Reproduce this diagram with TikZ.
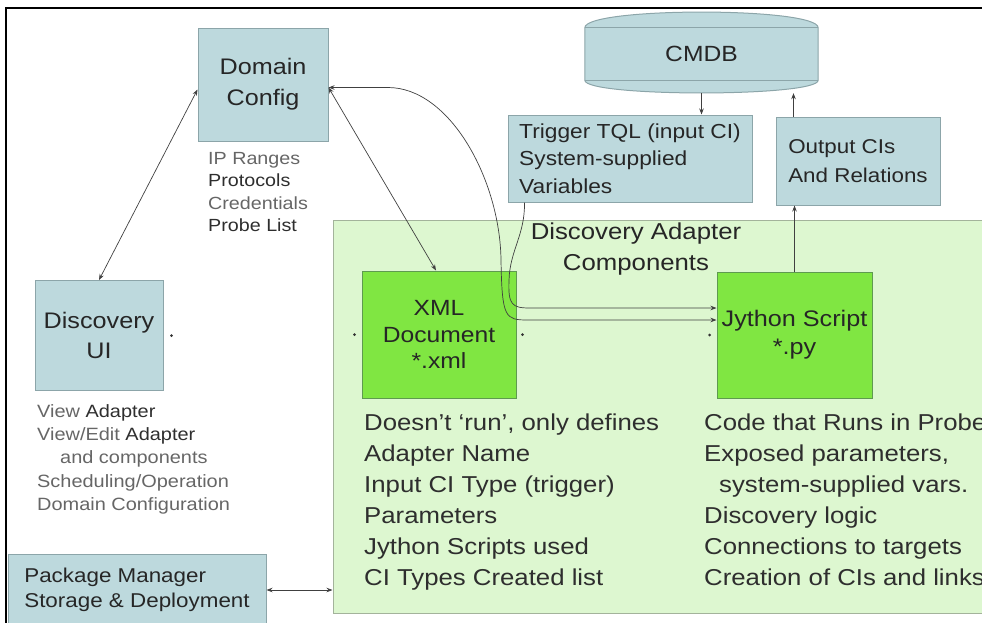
\documentclass[tikz,border=0pt]{standalone}
\usepackage{fontspec}
\setmainfont{Liberation Sans}[FakeStretch = 1.12]
\usetikzlibrary{arrows.meta}

\definecolor{cfgblue}{HTML}{BDD9DD}
\definecolor{cfgedge}{HTML}{8CA5A9}
\definecolor{adaptgreen}{HTML}{DDF7D0}
\definecolor{adaptedge}{HTML}{A3B39B}
\definecolor{filegreen}{HTML}{80E642}
\definecolor{fileedge}{HTML}{5E9A50}
\definecolor{listgray}{HTML}{2E2E2E}

\begin{document}
\begin{tikzpicture} [x = 1pt, y = -1pt, >= {Stealth[length = 6pt, width = 4.5pt]},
  bluebox/.style = {draw = cfgedge, fill = cfgblue, line width = 1pt, inner sep = 0pt, align = center, text = black!85},
  filebox/.style = {draw = fileedge, fill = filegreen, line width = 1pt, inner sep = 0pt, align = center, text = black!85},
  itemlist/.style = {anchor = north west, inner sep = 0pt, align = left, text = listgray},
  link/.style = {draw = black!75, line width = 0.7pt}]
\useasboundingbox (0.0, 0.0) rectangle (982.0, 622.0);
\clip (0.0, 0.0) rectangle (982.0, 622.0);
\draw[line width = 1.8pt] (6.0, 640.0) -- (6.0, 8.0) -- (995.0, 8.0);
\node[draw = adaptedge, fill = adaptgreen, line width = 1pt, inner sep = 0pt, minimum width = 667pt, minimum height = 393pt] (adapter) at (666.5, 416.5) {};
\node[text = black!85, align = center, font = \fontsize{23}{31}\selectfont] (adaptlabel) at (636.0, 249.5) {Discovery Adapter\\Components};
\node[bluebox, minimum width = 130pt, minimum height = 113pt, font = \fontsize{22.5}{31}\selectfont] (dom) at (263.0, 84.5) {Domain\\Config};
\node[bluebox, minimum width = 128pt, minimum height = 110pt, font = \fontsize{22.5}{30}\selectfont] (ui) at (99.0, 335.5) {Discovery\\UI};
\node[bluebox, minimum width = 258pt, minimum height = 72pt, align = left, font = \fontsize{20}{25}\selectfont] (pkg) at (137.0, 590.0) {Package Manager\\Storage \& Deployment};
\node[bluebox, minimum width = 244pt, minimum height = 87pt, align = left, font = \fontsize{20.3}{27.5}\selectfont] (trig) at (630.0, 158.5) {Trigger TQL (input CI)\\System-supplied\\Variables};
\node[bluebox, minimum width = 164pt, minimum height = 88pt, align = left, font = \fontsize{20}{29}\selectfont] (out) at (858.0, 161.0) {Output CIs\\And Relations};
\node[minimum width = 233pt, minimum height = 52pt, inner sep = 0pt] (cmdb) at (701.5, 54.0) {};
\draw[draw = cfgedge, fill = cfgblue, line width = 1pt] (cmdb.south west) -- (cmdb.north west) .. controls +(0, -21) and +(0, -21) .. (cmdb.north east) -- (cmdb.south east) .. controls +(0, 17) and +(0, 17) .. (cmdb.south west) -- cycle;
\draw[draw = cfgedge, line width = 1pt] (cmdb.north west) -- (cmdb.north east);
\draw[draw = cfgedge, line width = 1pt] (cmdb.south west) -- (cmdb.south east);
\node[text = black!85, font = \fontsize{22}{26}\selectfont] (cmdblabel) at (cmdb) {CMDB};
\node[filebox, minimum width = 154pt, minimum height = 127pt, font = \fontsize{22}{26.5}\selectfont] (xml) at (439.0, 334.5) {XML\\Document\\*.xml};
\node[filebox, minimum width = 155pt, minimum height = 126pt, font = \fontsize{22.5}{28}\selectfont] (py) at (794.5, 335.0) {Jython Script\\*.py};
\node[itemlist, font = \fontsize{17.6}{22.5}\selectfont] (domlist) at (208.0, 152.0) {\textcolor{black!60}{IP Ranges}\\Protocols\\\textcolor{black!60}{Credentials}\\Probe List};
\node[itemlist, font = \fontsize{17.8}{23.4}\selectfont] (uilist) at (37.0, 404.0) {\textcolor{black!60}{View} Adapter\\\textcolor{black!60}{View/Edit} Adapter\\\hspace*{23pt}\textcolor{black!60}{and components}\\\textcolor{black!60}{Scheduling/Operation}\\\textcolor{black!60}{Domain Configuration}};
\node[itemlist, font = \fontsize{23}{31}\selectfont] (xmllist) at (364.0, 414.0) {Doesn't `run', only defines\\Adapter Name\\Input CI Type (trigger)\\Parameters\\Jython Scripts used\\CI Types Created list};
\node[itemlist, font = \fontsize{23}{31}\selectfont] (pylist) at (704.0, 414.0) {Code that Runs in Probe\\Exposed parameters,\\\hspace*{15pt}system-supplied vars.\\Discovery logic\\Connections to targets\\Creation of CIs and links};
\coordinate (cmdbbot) at ([yshift = -13pt]cmdb.south);
\coordinate (outtop) at ([xshift = 18pt]out.north west);
\draw[link, <->] (ui.north) -- ([yshift = -5pt]dom.west);
\draw[link, <->] ([yshift = -3pt]dom.east) -- ([xshift = -3pt]xml.north);
\draw[link, <->] ([yshift = -3pt]dom.east) -- (388.0, 87.5) .. controls (450.0, 87.5) and (500.0, 180.0) .. (501.0, 260.0) .. controls (502.0, 318.0) and (505.0, 320.0) .. (528.0, 320.0) -- ([yshift = 15pt]py.west);
\draw[link, ->] ([xshift = 17pt]trig.south west) .. controls (525.0, 235.0) and (510.0, 250.0) .. (509.0, 280.0) .. controls (508.0, 305.0) and (512.0, 308.0) .. (530.0, 308.0) -- ([yshift = 27pt]py.west);
\draw[link, ->] (cmdbbot) -- (cmdbbot |- trig.north);
\draw[link, ->] (outtop) -- (outtop |- cmdbbot);
\draw[link, ->] (py.north) -- (py.north |- out.south);
\draw[link, <->] (pkg.east) -- (pkg.east -| adapter.west);
\fill[black!80] ([xshift = 8pt]ui.east) circle [radius = 1.5pt];
\fill[black!80] ([xshift = -7pt]xml.west) circle [radius = 1.5pt];
\fill[black!80] ([xshift = 6pt]xml.east) circle [radius = 1.5pt];
\fill[black!80] ([xshift = -7pt]py.west) circle [radius = 1.5pt];
\end{tikzpicture}
\end{document}
